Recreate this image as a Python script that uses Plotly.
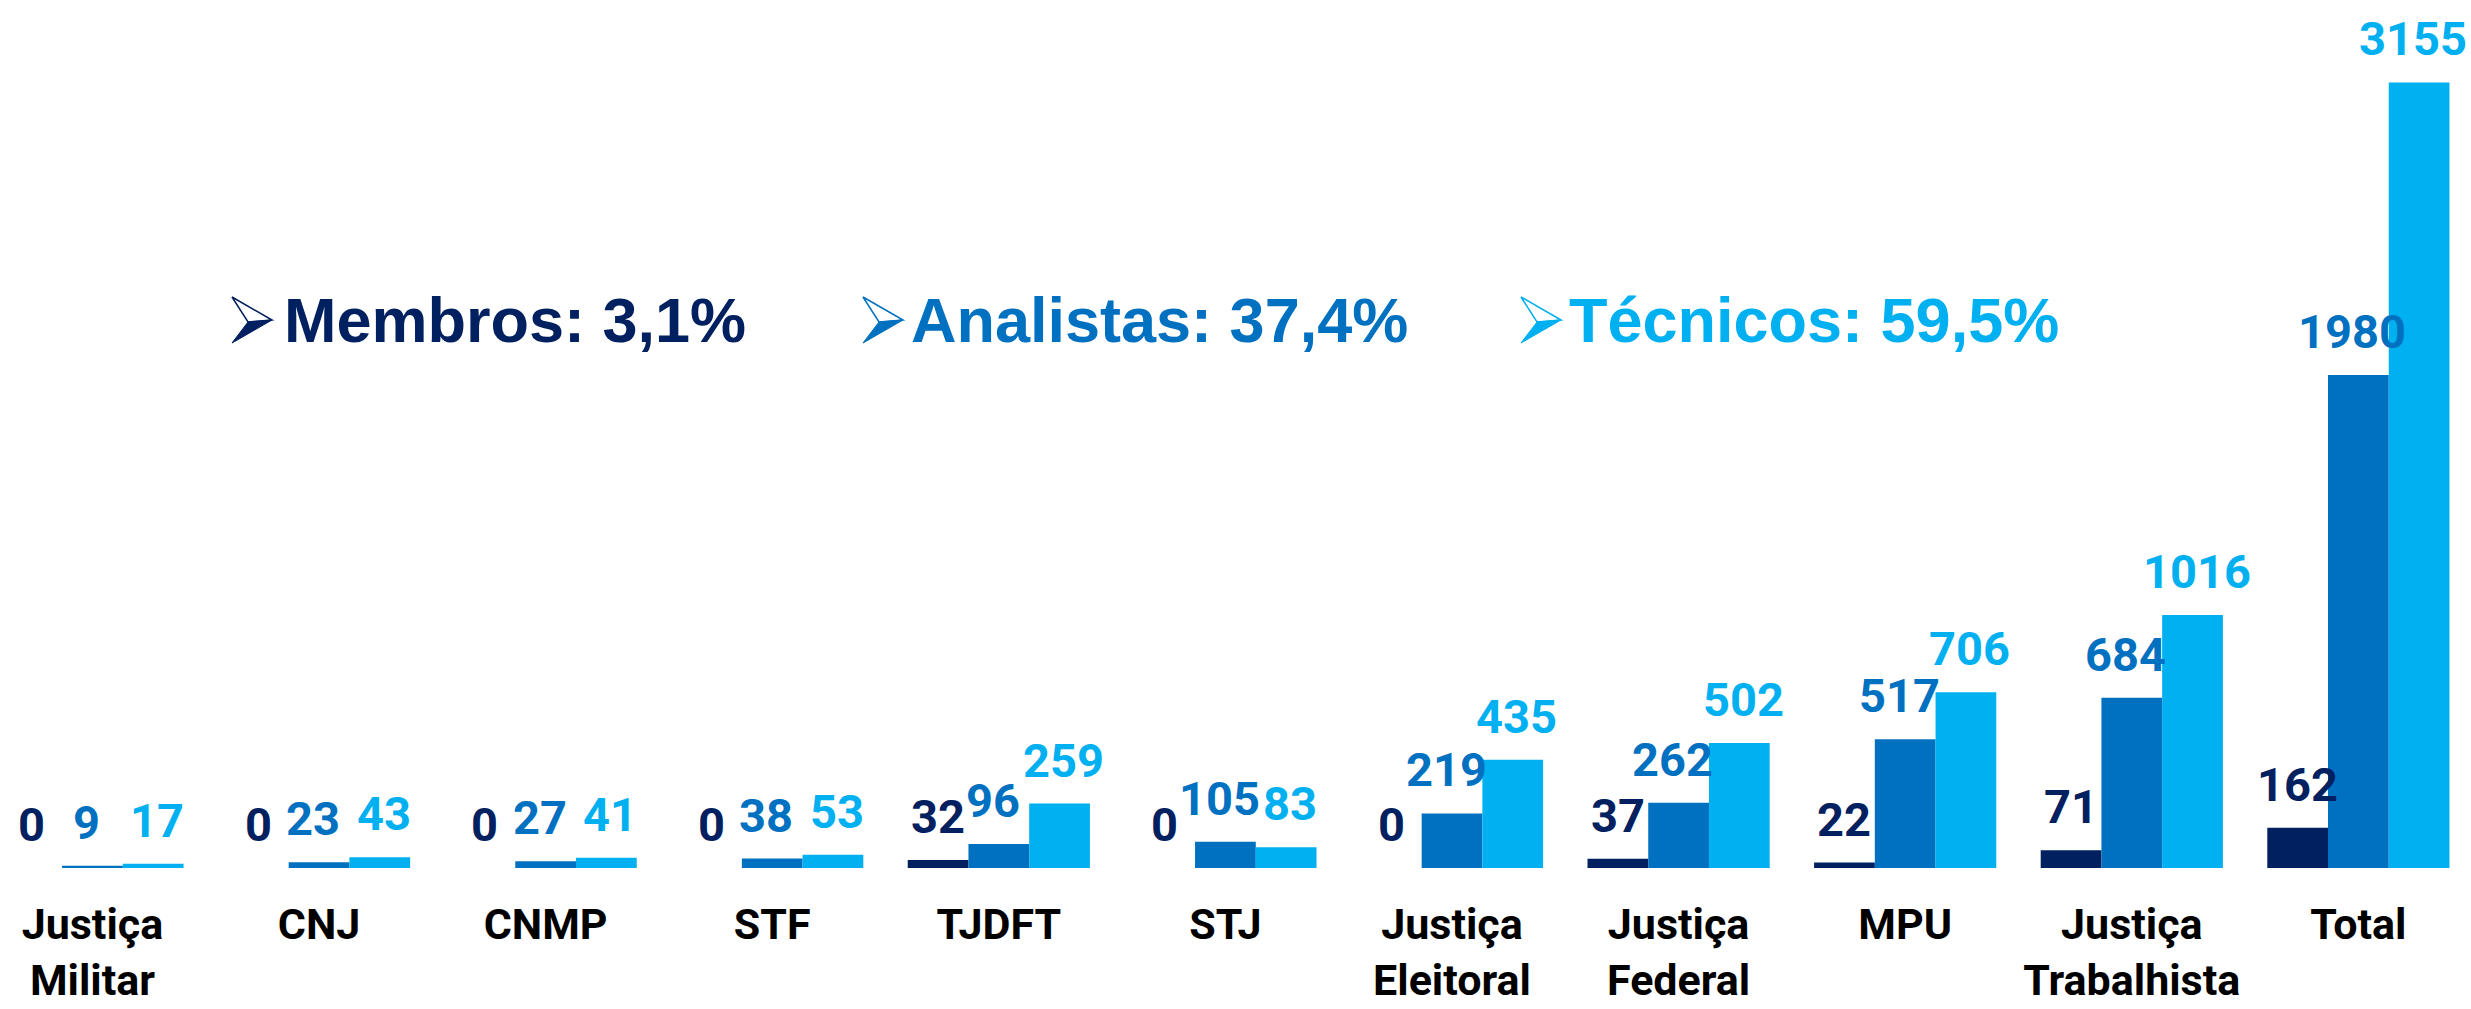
import plotly.graph_objects as go

categories = ["Justiça<br>Militar", "CNJ", "CNMP", "STF", "TJDFT", "STJ",
              "Justiça<br>Eleitoral", "Justiça<br>Federal", "MPU",
              "Justiça<br>Trabalhista", "Total"]
membros = [0, 0, 0, 0, 32, 0, 0, 37, 22, 71, 162]
analistas = [9, 23, 27, 38, 96, 105, 219, 262, 517, 684, 1980]
tecnicos = [17, 43, 41, 53, 259, 83, 435, 502, 706, 1016, 3155]

series_names = ["Membros", "Analistas", "Técnicos"]
series_values = [membros, analistas, tecnicos]
series_colors = ["#002060", "#0070C0", "#00B0F0"]
header_texts = ["Membros: 3,1%", "Analistas: 37,4%", "Técnicos: 59,5%"]

W, H = 2471, 1009
plot_h = 868
LABEL_FONT = "Roboto, Liberation Sans, sans-serif"
LABEL_SIZE = 47
label_xshift = [0, -6, 4]

idx = list(range(len(categories)))
bar_w = 0.268
x_range = [-0.408, 10.497]


def px_of(x):
    return (x - x_range[0]) / (x_range[1] - x_range[0]) * W


def pxx(px):
    return px / W


def pxy(py):
    return (plot_h - py) / plot_h


fig = go.Figure()
for j, (name, vals, col) in enumerate(zip(series_names, series_values, series_colors)):
    xs = [i + (j - 1) * bar_w for i in idx]
    fig.add_trace(go.Bar(
        x=xs, y=vals, width=bar_w, name=name,
        marker=dict(color=col, line=dict(width=0)),
        hoverinfo="y+name",
    ))
    for x, v in zip(xs, vals):
        txt = str(v)
        half_w = len(txt) * 0.575 * LABEL_SIZE / 2
        shift = label_xshift[j]
        right_edge = px_of(x) + shift + half_w
        if right_edge > W - 4:
            shift -= right_edge - (W - 4)
        fig.add_annotation(
            x=x, y=v, xref="x", yref="y", text=txt, showarrow=False,
            xanchor="center", yanchor="bottom", yshift=14, xshift=shift,
            font=dict(family=LABEL_FONT, size=LABEL_SIZE, color=col, weight="bold"),
        )

# header percentages with 3D-style arrowheads
arrow_px = [232, 863, 1521]
text_px = [282, 909, 1567]
center_py = 320
for ax_, tx_, txt, col in zip(arrow_px, text_px, header_texts, series_colors):
    top = (ax_, center_py - 23)
    tip = (ax_ + 40, center_py)
    notch = (ax_ + 16, center_py + 2)
    bot = (ax_, center_py + 23)
    upper = "M {} {} L {} {} L {} {} Z".format(
        pxx(top[0]), pxy(top[1]), pxx(tip[0]), pxy(tip[1]), pxx(notch[0]), pxy(notch[1]))
    lower = "M {} {} L {} {} L {} {} Z".format(
        pxx(notch[0]), pxy(notch[1]), pxx(tip[0]), pxy(tip[1]), pxx(bot[0]), pxy(bot[1]))
    fig.add_shape(type="path", path=upper, xref="paper", yref="paper",
                  fillcolor="white", line=dict(color=col, width=1.5))
    fig.add_shape(type="path", path=lower, xref="paper", yref="paper",
                  fillcolor=col, line=dict(color=col, width=1))
    fig.add_annotation(
        x=pxx(tx_), y=pxy(center_py), xref="paper", yref="paper",
        text=txt, showarrow=False, xanchor="left", yanchor="middle",
        font=dict(family="Liberation Sans, Arial, sans-serif", size=63, color=col, weight="bold"),
    )

fig.update_layout(
    width=W, height=H,
    margin=dict(l=0, r=0, t=0, b=H - plot_h, pad=0, autoexpand=False),
    paper_bgcolor="white", plot_bgcolor="white",
    showlegend=False,
    xaxis=dict(
        range=x_range, tickmode="array", tickvals=idx, ticktext=categories,
        showgrid=False, zeroline=False, showline=False, ticks="",
        tickfont=dict(family=LABEL_FONT, size=43, color="black", weight="bold"),
        ticklabelstandoff=27, automargin=False,
    ),
    yaxis=dict(range=[0, plot_h / 0.249], visible=False, showgrid=False,
               zeroline=False, automargin=False),
)

fig.write_html("out.html")
